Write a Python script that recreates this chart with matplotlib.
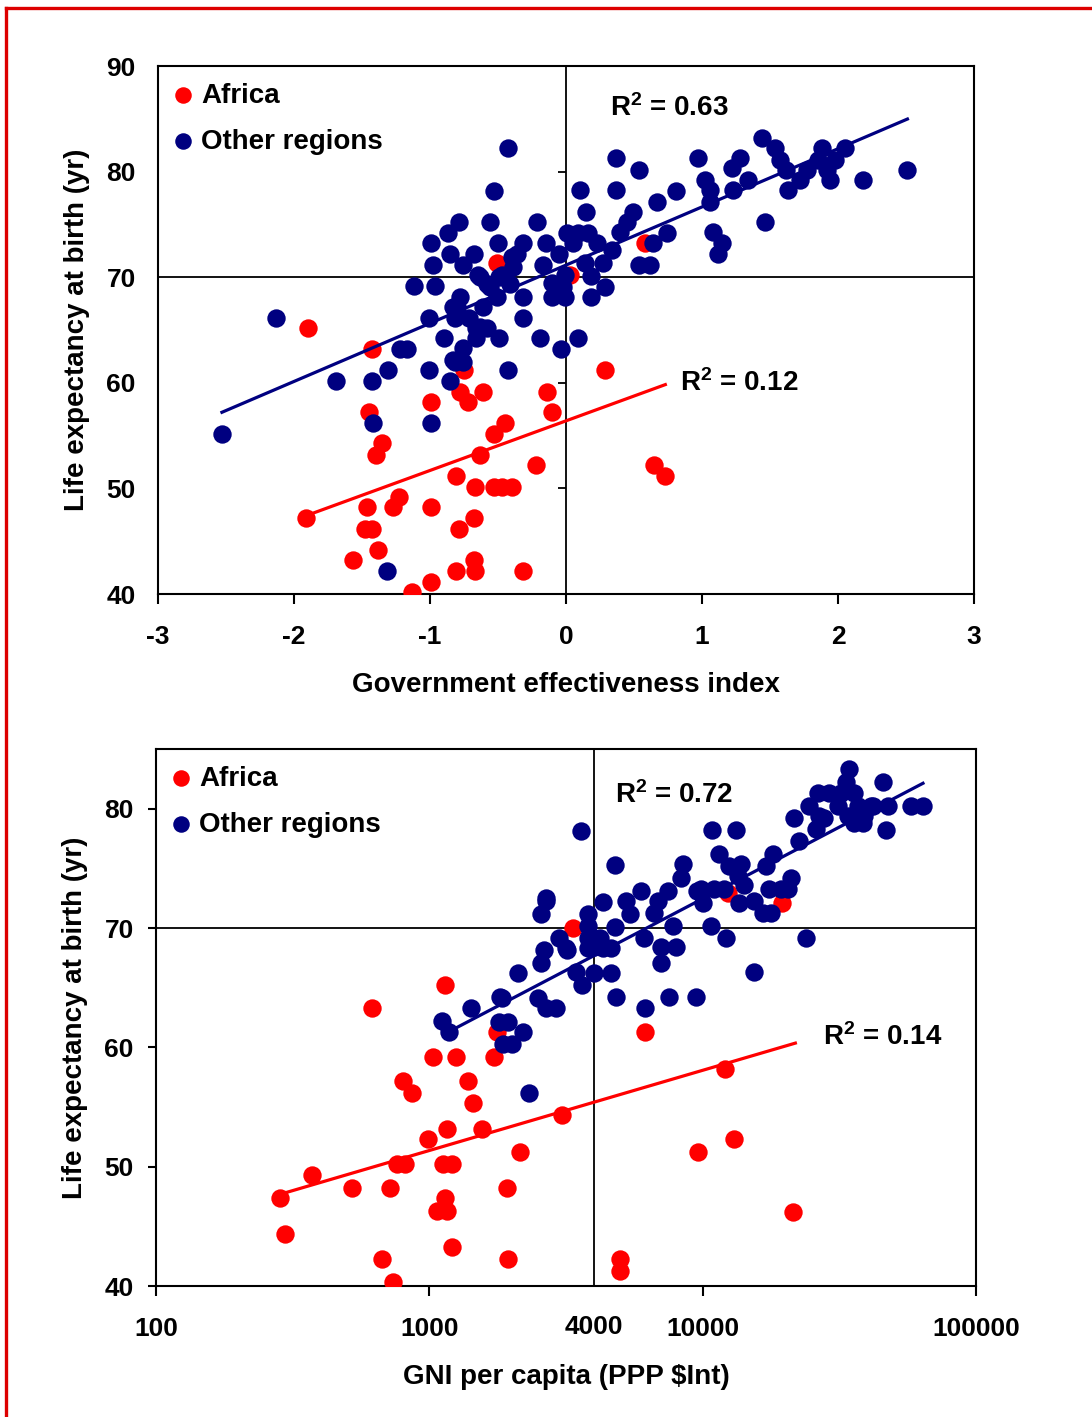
import numpy as np
import matplotlib
matplotlib.use("Agg")
import matplotlib.pyplot as plt
from matplotlib.lines import Line2D

plt.rcParams['font.family'] = ['Liberation Sans', 'DejaVu Sans']
plt.rcParams['font.weight'] = 'bold'
plt.rcParams['axes.unicode_minus'] = False
plt.rcParams['mathtext.fontset'] = 'custom'
plt.rcParams['mathtext.rm'] = 'Liberation Sans:bold'
plt.rcParams['mathtext.it'] = 'Liberation Sans:bold'
plt.rcParams['mathtext.bf'] = 'Liberation Sans:bold'

RED = '#ff0000'
BLUE = '#000080'

# --- panel 1: government effectiveness index vs life expectancy ---
gov_africa = [(-1.91, 47.2), (-1.46, 48.2), (-1.48, 46.2), (-1.43, 46.2), (-1.57, 43.2), (-1.38, 44.2),
              (-1.27, 48.2), (-1.23, 49.2), (-1.13, 40.2), (-0.99, 41.1), (-0.99, 48.2), (-0.81, 51.2),
              (-0.79, 46.2), (-0.81, 42.2), (-0.68, 47.2), (-0.68, 43.2), (-0.67, 42.2), (-0.67, 50.1),
              (-0.53, 50.1), (-0.47, 50.1), (-0.40, 50.1), (-0.32, 42.2), (-0.63, 53.2), (-0.53, 55.2),
              (-0.45, 56.2), (-0.22, 52.2), (-0.10, 57.2), (-0.14, 59.1), (-0.72, 58.2), (-0.78, 59.1),
              (-0.61, 59.1), (-0.75, 61.2), (-0.99, 58.2), (-1.45, 57.2), (-1.35, 54.3), (-1.40, 53.2),
              (0.29, 61.2), (0.65, 52.2), (0.73, 51.2), (-1.90, 65.2), (-1.43, 63.2), (-0.51, 71.3),
              (0.03, 70.2), (0.58, 73.2)]

gov_other = [(-2.53, 55.2), (-2.13, 66.1), (-1.69, 60.2), (-1.43, 60.2), (-1.42, 56.2), (-1.32, 42.2),
             (-1.31, 61.2), (-1.22, 63.2), (-1.17, 63.2), (-1.12, 69.2), (-1.01, 61.2), (-1.01, 66.1),
             (-0.99, 56.2), (-0.99, 73.2), (-0.98, 71.2), (-0.96, 69.2), (-0.90, 64.2), (-0.87, 74.2),
             (-0.85, 72.2), (-0.85, 60.2), (-0.83, 62.2), (-0.83, 67.2), (-0.82, 62.0), (-0.82, 66.1),
             (-0.80, 67.2), (-0.79, 75.2), (-0.78, 68.1), (-0.76, 71.2), (-0.76, 62.0), (-0.76, 63.3),
             (-0.71, 66.1), (-0.68, 72.2), (-0.66, 65.2), (-0.66, 64.2), (-0.65, 70.2), (-0.63, 70.0),
             (-0.63, 65.3), (-0.61, 67.2), (-0.58, 69.4), (-0.58, 65.2), (-0.56, 75.2), (-0.56, 69.1),
             (-0.53, 78.2), (-0.51, 68.1), (-0.50, 73.2), (-0.49, 70.0), (-0.49, 64.2), (-0.47, 70.2),
             (-0.43, 82.2), (-0.43, 61.2), (-0.41, 69.4), (-0.40, 71.9), (-0.39, 71.0), (-0.36, 72.2),
             (-0.32, 73.2), (-0.32, 68.1), (-0.32, 66.1), (-0.21, 75.2), (-0.19, 64.2), (-0.17, 71.2),
             (-0.15, 73.2), (-0.10, 69.5), (-0.10, 68.1), (-0.08, 69.3), (-0.05, 72.2), (-0.04, 63.2),
             (-0.02, 69.1), (-0.01, 70.2), (-0.01, 68.1), (0.01, 74.2), (0.05, 73.2), (0.09, 74.2),
             (0.09, 64.2), (0.10, 78.3), (0.14, 71.3), (0.15, 76.2), (0.16, 74.2), (0.18, 70.1),
             (0.18, 68.1), (0.23, 73.2), (0.27, 71.3), (0.29, 69.1), (0.34, 72.6), (0.37, 81.3),
             (0.37, 78.3), (0.40, 74.3), (0.45, 75.2), (0.49, 76.2), (0.54, 80.2), (0.54, 71.2),
             (0.62, 71.2), (0.64, 73.2), (0.67, 77.1), (0.74, 74.2), (0.81, 78.2), (0.97, 81.3),
             (1.02, 79.2), (1.06, 78.3), (1.06, 77.1), (1.08, 74.3), (1.12, 72.2), (1.15, 73.2),
             (1.22, 80.3), (1.23, 78.3), (1.28, 81.3), (1.34, 79.2), (1.44, 83.2), (1.46, 75.2),
             (1.54, 82.2), (1.57, 81.1), (1.62, 80.2), (1.63, 78.3), (1.72, 79.2), (1.77, 80.2),
             (1.85, 81.1), (1.88, 82.2), (1.92, 80.2), (1.94, 79.2), (1.98, 81.1), (2.05, 82.2),
             (2.18, 79.2), (2.51, 80.2)]

# linear trend lines (slope, intercept)
gov_fit_africa = (4.70, 56.4)
gov_fit_other = (5.51, 71.15)
gov_r2 = ['0.12', '0.63']

# --- panel 2: GNI per capita vs life expectancy ---
gni_africa = [(285, 47.4), (297, 44.4), (373, 49.3), (522, 48.2), (720, 48.2), (672, 42.3), (738, 40.3),
              (764, 50.2), (817, 50.2), (803, 57.2), (866, 56.2), (992, 52.3), (1164, 53.2), (1125, 50.2),
              (1213, 50.2), (1144, 47.4), (1070, 46.3), (1164, 46.3), (1213, 43.3), (1390, 57.2),
              (1449, 55.3), (1563, 53.2), (1931, 48.2), (1946, 42.3), (2153, 51.2), (3069, 54.3),
              (618, 63.3), (1144, 65.2), (1035, 59.2), (1256, 59.2), (1730, 59.2), (1774, 61.3),
              (3365, 70.0), (12050, 58.2), (9600, 51.2), (13000, 52.3), (21400, 46.2), (4966, 42.3),
              (4966, 41.3), (6140, 61.3), (19460, 72.1), (12360, 72.9)]

gni_other = [(1116, 62.2), (1175, 61.3), (1426, 63.3), (1837, 64.1), (1791, 62.1), (1946, 62.1),
             (1866, 60.3), (2014, 60.3), (2193, 61.3), (2101, 66.2), (2487, 64.1), (2663, 63.3),
             (2896, 63.3), (2570, 67.1), (2616, 68.2), (2970, 69.2), (3178, 68.2), (2570, 71.2),
             (2663, 72.3), (3573, 78.1), (3428, 66.3), (3606, 65.2), (3793, 71.2), (3793, 70.2),
             (3793, 69.2), (3793, 68.3), (2306, 56.2), (4766, 75.3), (4335, 72.2), (5230, 72.3),
             (5930, 73.1), (5410, 71.2), (4766, 70.1), (3990, 69.2), (4227, 69.2), (3990, 68.4),
             (4305, 68.3), (4605, 68.3), (3990, 66.2), (4605, 66.2), (3148, 68.3), (2663, 72.5),
             (4800, 64.2), (6137, 63.3), (7500, 64.2), (9420, 64.2), (6080, 69.2), (7020, 68.4),
             (7960, 68.4), (7020, 67.1), (7760, 70.2), (6620, 71.3), (6840, 72.3), (7440, 73.1),
             (8300, 74.2), (8450, 75.4), (9510, 73.1), (10790, 78.2), (13210, 78.2), (11450, 76.2),
             (12450, 75.2), (13770, 75.4), (13430, 74.4), (14110, 73.6), (9840, 73.3), (10970, 73.3),
             (11930, 73.3), (10000, 72.1), (13540, 72.1), (15370, 72.3), (16600, 71.3), (17740, 71.3),
             (17460, 73.3), (19320, 73.3), (20480, 73.3), (20990, 74.2), (17010, 75.2), (18050, 76.2),
             (22480, 77.3), (21540, 79.2), (25920, 78.3), (26600, 79.4), (27750, 79.2), (24410, 80.2),
             (26360, 81.3), (28950, 81.3), (32010, 81.3), (35700, 81.3), (33430, 82.2), (34280, 83.3),
             (31250, 80.2), (34000, 79.4), (36950, 80.2), (38940, 79.4), (41210, 80.2), (35700, 78.8),
             (38500, 78.8), (45600, 82.2), (47600, 80.2), (46800, 78.2), (41960, 80.2), (57800, 80.2),
             (63960, 80.2), (10690, 70.2), (12140, 69.2), (23800, 69.2), (15370, 66.3), (1820, 64.2)]

# trend vs log10(GNI): (slope, intercept)
gni_fit_africa = (6.72, 31.2)
gni_fit_other = (12.0, 24.46)
gni_r2 = ['0.14', '0.72']

FS = 19      # tick labels
FL = 20      # axis labels, legend, R2 text
MS = 175

fig = plt.figure(figsize=(10.92, 14.17), dpi=100)

# red frame (top and left edges visible)
fig.add_artist(Line2D([6 / 1092, 6 / 1092], [0, 1 - 8 / 1417], color='#dd0000', lw=2.4,
                      transform=fig.transFigure))
fig.add_artist(Line2D([6 / 1092, 1], [1 - 8 / 1417, 1 - 8 / 1417], color='#dd0000', lw=2.4,
                      transform=fig.transFigure))


def add_legend(ax):
    ax.legend(loc='upper left', bbox_to_anchor=(0, 1), frameon=False, fontsize=FL,
              handlelength=0.6, handletextpad=0.35, borderaxespad=0.0, borderpad=0.6,
              labelspacing=0.72, markerscale=0.9)


# ---------------- top panel ----------------
ax1 = fig.add_axes([0.1447, 0.5808, 0.7473, 0.3726])
a = np.array(gov_africa)
o = np.array(gov_other)
ax1.scatter(a[:, 0], a[:, 1], s=MS, color=RED, lw=0, zorder=3, label='Africa')
ax1.scatter(o[:, 0], o[:, 1], s=MS, color=BLUE, lw=0, zorder=4, label='Other regions')

xa = np.array([a[:, 0].min(), a[:, 0].max()])
ax1.plot(xa, gov_fit_africa[0] * xa + gov_fit_africa[1], color=RED, lw=2.3, zorder=5)
xo = np.array([o[:, 0].min(), o[:, 0].max()])
ax1.plot(xo, gov_fit_other[0] * xo + gov_fit_other[1], color=BLUE, lw=2.3, zorder=5)

ax1.axvline(0, color='black', lw=1.3, zorder=2)
ax1.axhline(70, color='black', lw=1.3, zorder=2)

ax1.set_xlim(-3, 3)
ax1.set_ylim(40, 90)
ax1.set_xticks(range(-3, 4))
yt1 = [40, 50, 60, 70, 80, 90]
ax1.set_yticks(yt1)
# tick marks sit on the x = 0 line
ax1.plot(np.zeros(len(yt1)), yt1, ls='none', marker=0, markersize=6, mew=1.3, color='black',
         clip_on=False, zorder=2)
ax1.tick_params(axis='y', length=0, pad=16, labelsize=FS)
ax1.tick_params(axis='x', direction='out', length=7, width=1.5, pad=15, labelsize=FS)
for s in ax1.spines.values():
    s.set_linewidth(1.5)
ax1.set_xlabel('Government effectiveness index', fontsize=FL, fontweight='bold', labelpad=17)
ax1.set_ylabel('Life expectancy at birth (yr)', fontsize=FL, fontweight='bold', labelpad=12)
ax1.text(0.32, 86.0, r'R$^{2}$ = ' + gov_r2[1], fontsize=FL, fontweight='bold', va='center')
ax1.text(0.84, 60.0, r'R$^{2}$ = ' + gov_r2[0], fontsize=FL, fontweight='bold', va='center')
add_legend(ax1)

# ---------------- bottom panel ----------------
ax2 = fig.add_axes([0.1429, 0.0924, 0.7509, 0.3790])
a2 = np.array(gni_africa)
o2 = np.array(gni_other)
ax2.scatter(a2[:, 0], a2[:, 1], s=MS, color=RED, lw=0, zorder=3, label='Africa')
ax2.scatter(o2[:, 0], o2[:, 1], s=MS, color=BLUE, lw=0, zorder=4, label='Other regions')

xa2 = np.array([a2[:, 0].min(), a2[:, 0].max() * 1.02])
ax2.plot(xa2, gni_fit_africa[0] * np.log10(xa2) + gni_fit_africa[1], color=RED, lw=2.3, zorder=5)
xo2 = np.array([o2[:, 0].min() * 1.1, o2[:, 0].max()])
ax2.plot(xo2, gni_fit_other[0] * np.log10(xo2) + gni_fit_other[1], color=BLUE, lw=2.3, zorder=5)

ax2.axvline(4000, color='black', lw=1.3, zorder=2)
ax2.axhline(70, color='black', lw=1.3, zorder=2)

ax2.set_xscale('log')
ax2.set_xlim(100, 100000)
ax2.set_ylim(40, 85)
ax2.set_xticks([100, 1000, 10000, 100000], labels=['100', '1000', '10000', '100000'])
ax2.set_xticks([4000], labels=['4000'], minor=True)
ax2.set_yticks([40, 50, 60, 70, 80])
ax2.tick_params(axis='x', which='major', direction='out', length=7, width=1.5, pad=15, labelsize=FS)
ax2.tick_params(axis='x', which='minor', length=0, pad=21, labelsize=FS)
ax2.tick_params(axis='y', direction='out', length=6, width=1.5, pad=10, labelsize=FS)
for s in ax2.spines.values():
    s.set_linewidth(1.5)
ax2.set_xlabel('GNI per capita (PPP $Int)', fontsize=FL, fontweight='bold', labelpad=17)
ax2.set_ylabel('Life expectancy at birth (yr)', fontsize=FL, fontweight='bold', labelpad=12)
ax2.text(4770, 81.1, r'R$^{2}$ = ' + gni_r2[1], fontsize=FL, fontweight='bold', va='center')
ax2.text(27500, 60.9, r'R$^{2}$ = ' + gni_r2[0], fontsize=FL, fontweight='bold', va='center')
add_legend(ax2)

fig.savefig('out.png', dpi=100)
